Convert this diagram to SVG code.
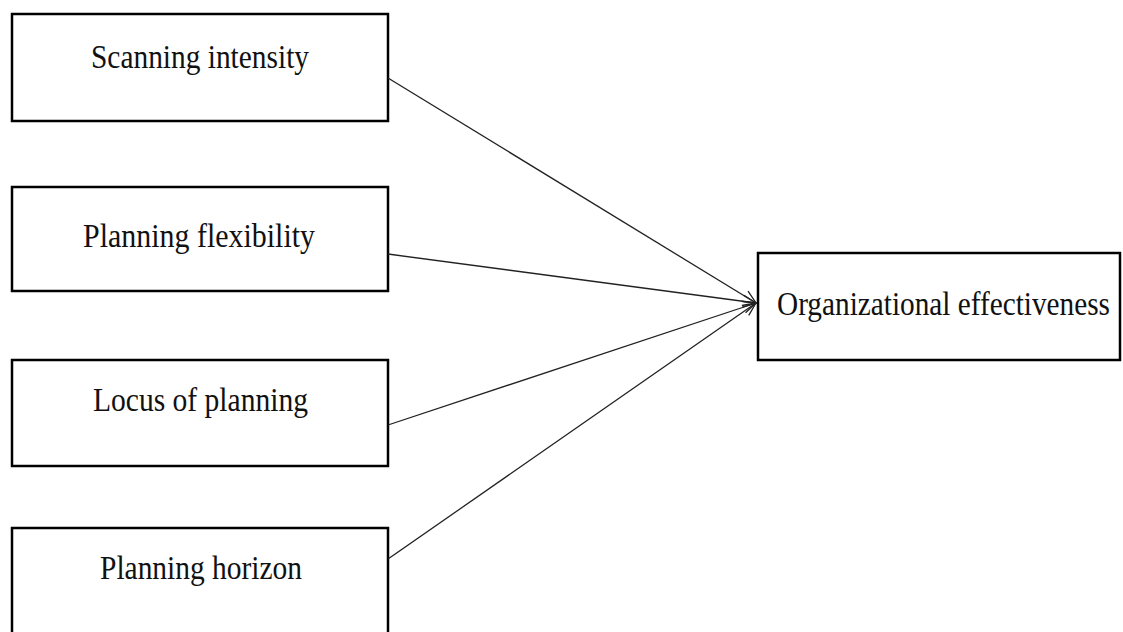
<svg xmlns="http://www.w3.org/2000/svg" width="1123" height="632" viewBox="0 0 1123 632">
<style>
.box{fill:#fff;stroke:#000;stroke-width:2.5}
.lbl{font-family:"Liberation Serif","Times New Roman",serif;font-size:34px;fill:#111}
.conn{stroke:#222;stroke-width:1.3;fill:none}
</style>
<defs>
<marker id="arr" markerWidth="16" markerHeight="16" refX="14" refY="8" orient="auto" markerUnits="userSpaceOnUse">
<path d="M1,2 L14,8 L1,14" fill="none" stroke="#222" stroke-width="1.3"/>
</marker>
</defs>
<rect width="1123" height="632" fill="#fff"/>
<g id="n1"><rect class="box" x="12" y="14" width="376" height="107"/><text class="lbl" transform="translate(91,68) scale(0.86,1)" textLength="253.5" lengthAdjust="spacingAndGlyphs">Scanning intensity</text></g>
<g id="n2"><rect class="box" x="12" y="187" width="376" height="104"/><text class="lbl" transform="translate(83,247) scale(0.86,1)" textLength="269.8" lengthAdjust="spacingAndGlyphs">Planning flexibility</text></g>
<g id="n3"><rect class="box" x="12" y="360" width="376" height="106"/><text class="lbl" transform="translate(93,411) scale(0.86,1)" textLength="250" lengthAdjust="spacingAndGlyphs">Locus of planning</text></g>
<g id="n4"><rect class="box" x="12" y="528" width="376" height="110"/><text class="lbl" transform="translate(100,579) scale(0.86,1)" textLength="234.9" lengthAdjust="spacingAndGlyphs">Planning horizon</text></g>
<g id="n5"><rect class="box" x="758" y="253" width="362" height="107"/><text class="lbl" transform="translate(777,315) scale(0.86,1)" textLength="387.2" lengthAdjust="spacingAndGlyphs">Organizational effectiveness</text></g>
<g id="connectors">
<line class="conn" x1="388" y1="78" x2="756" y2="303" marker-end="url(#arr)"/>
<line class="conn" x1="388" y1="254" x2="756" y2="303" marker-end="url(#arr)"/>
<line class="conn" x1="388" y1="425" x2="756" y2="303" marker-end="url(#arr)"/>
<line class="conn" x1="388" y1="559" x2="756" y2="303" marker-end="url(#arr)"/>
</g>
</svg>
